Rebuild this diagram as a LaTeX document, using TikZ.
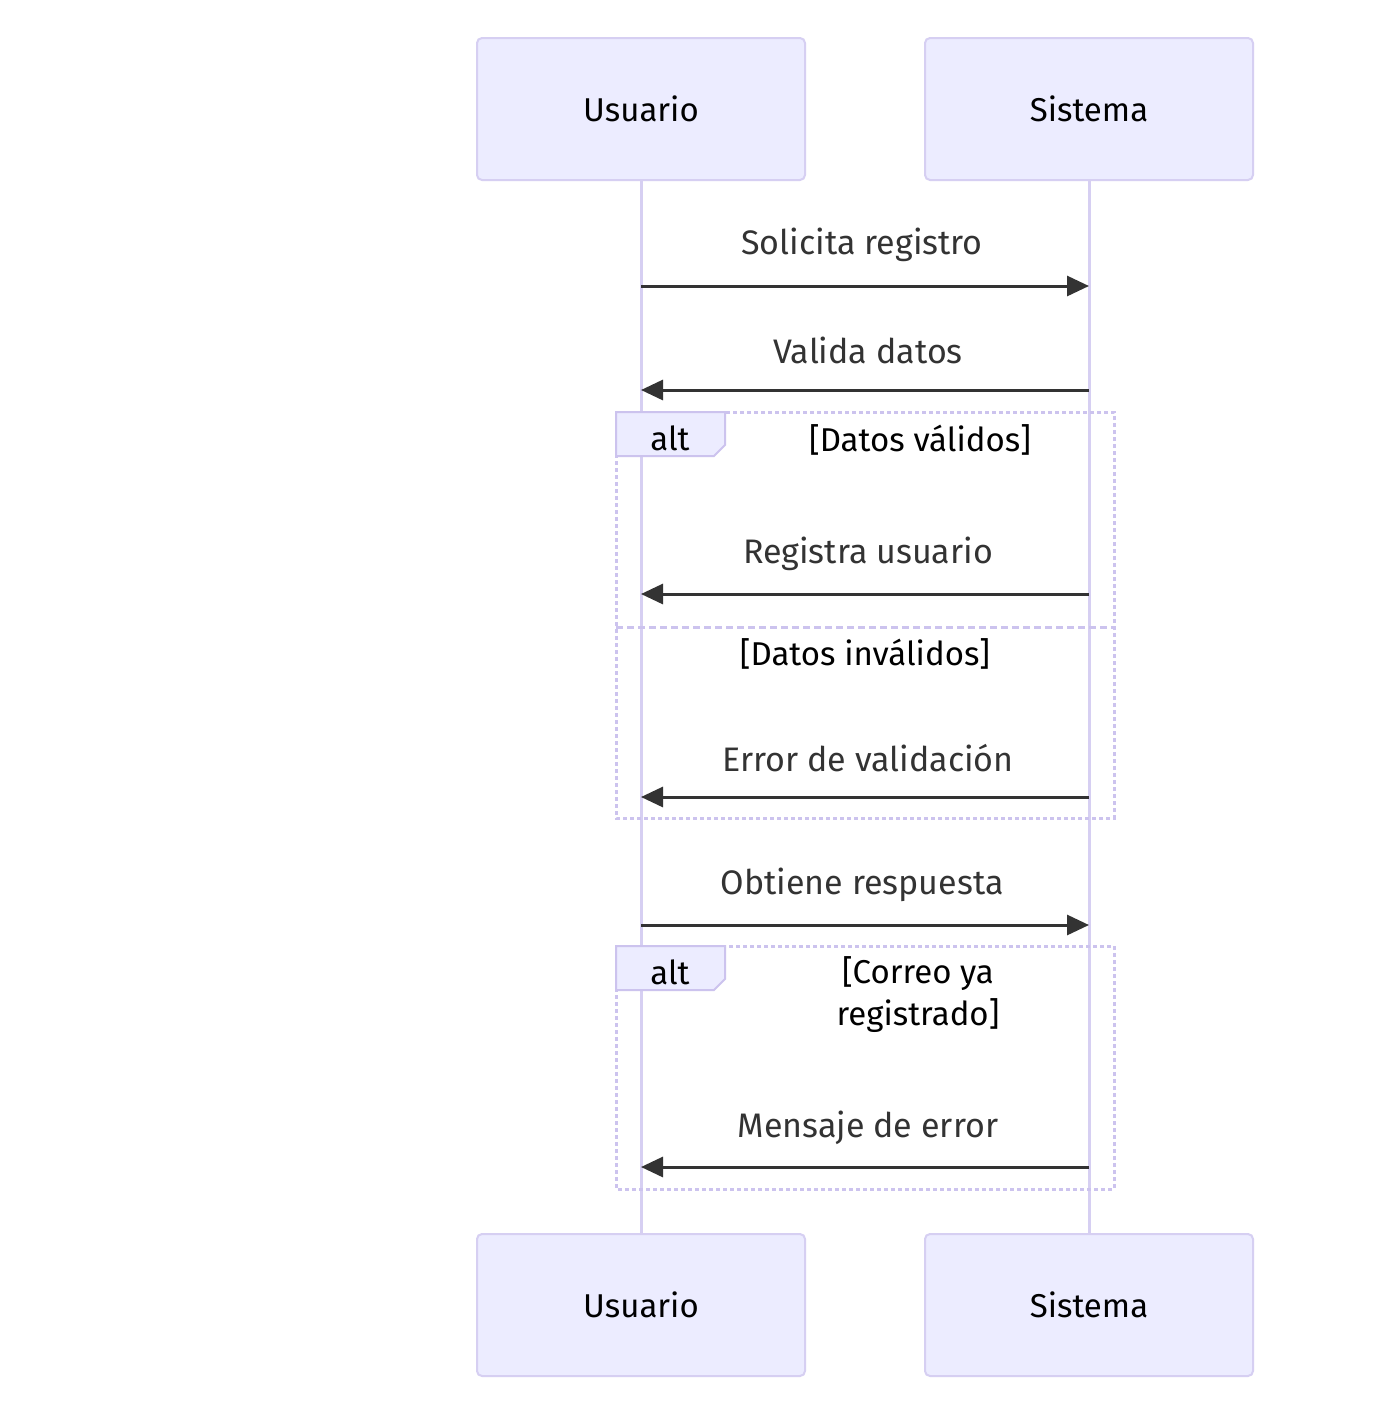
\documentclass[tikz,border=0pt]{standalone}
\usepackage{fontspec}
\setmainfont{Fira Sans}
\usetikzlibrary{arrows.meta}
\definecolor{actfill}{HTML}{ECECFF}
\definecolor{actline}{HTML}{D6CFF2}
\definecolor{msgcol}{HTML}{333333}
\definecolor{altline}{HTML}{CCC3EE}
\tikzset{
  x=1pt,y=-1pt,
  actor/.style={draw=actline,fill=actfill,line width=2pt,rounded corners=5pt,minimum width=328pt,minimum height=142pt,inner sep=0pt,font=\fontsize{33}{40}\selectfont,text=black},
  life/.style={draw=actline,line width=3pt},
  msg/.style={draw=msgcol,line width=3pt,-{Triangle[length=22pt,width=20pt]}},
  mlabel/.style={font=\fontsize{34}{40}\selectfont,text=msgcol,inner sep=0pt},
  frame/.style={draw=altline,line width=3pt,dash pattern=on 4pt off 3pt},
  divider/.style={draw=altline,line width=3pt,dash pattern=on 7pt off 4pt},
  tabbox/.style={draw=altline,fill=actfill,line width=2pt},
  altlabel/.style={font=\fontsize{33}{42}\selectfont,text=black,inner sep=0pt,align=center},
}
\begin{document}
\begin{tikzpicture}
\useasboundingbox[fill=white] (0,0) rectangle (1378,1414);
% lifelines
\coordinate (u0) at (641,180); \coordinate (u1) at (641,1233);
\coordinate (s0) at (1089,180); \coordinate (s1) at (1089,1233);
\draw[life] (u0) -- (u1);
\draw[life] (s0) -- (s1);
% actors
\node[actor] (ut) at (641,109) {Usuario};
\node[actor] (st) at (1089,109) {Sistema};
\node[actor] (ub) at (641,1305) {Usuario};
\node[actor] (sb) at (1089,1305) {Sistema};
% messages
\coordinate (m1u) at (641,286); \coordinate (m1s) at (1089,286);
\draw[msg] (m1u) -- (m1s);
\node[mlabel] (l1) at (862,245) {Solicita registro};
\coordinate (m2u) at (641,390); \coordinate (m2s) at (1089,390);
\draw[msg] (m2s) -- (m2u);
\node[mlabel] (l2) at (868,350) {Valida datos};
% alt 1
\coordinate (a1tl) at (616,412); \coordinate (a1br) at (1114,818);
\draw[frame] (a1tl) rectangle (a1br);
\draw[divider] (616,627) -- (1114,627);
\draw[tabbox] (616,412) -- (725,412) -- (725,445) -- (714,456) -- (616,456) -- cycle;
\node[altlabel] (t1) at (670,438) {alt};
\node[altlabel] (c1) at (920,440) {[Datos válidos]};
\node[altlabel] (c2) at (865,654) {[Datos inválidos]};
\coordinate (m3u) at (641,594); \coordinate (m3s) at (1089,594);
\draw[msg] (m3s) -- (m3u);
\node[mlabel] (l3) at (868,554) {Registra usuario};
\coordinate (m4u) at (641,797); \coordinate (m4s) at (1089,797);
\draw[msg] (m4s) -- (m4u);
\node[mlabel] (l4) at (868,758) {Error de validación};
% obtiene
\coordinate (m5u) at (641,925); \coordinate (m5s) at (1089,925);
\draw[msg] (m5u) -- (m5s);
\node[mlabel] (l5) at (862,885) {Obtiene respuesta};
% alt 2
\coordinate (a2tl) at (616,946); \coordinate (a2br) at (1114,1189);
\draw[frame] (a2tl) rectangle (a2br);
\draw[tabbox] (616,946) -- (725,946) -- (725,979) -- (714,990) -- (616,990) -- cycle;
\node[altlabel] (t2) at (670,972) {alt};
\node[altlabel] (c3) at (918,995) {[Correo ya\\registrado]};
\coordinate (m6u) at (641,1167); \coordinate (m6s) at (1089,1167);
\draw[msg] (m6s) -- (m6u);
\node[mlabel] (l6) at (868,1128) {Mensaje de error};
\end{tikzpicture}
\end{document}
